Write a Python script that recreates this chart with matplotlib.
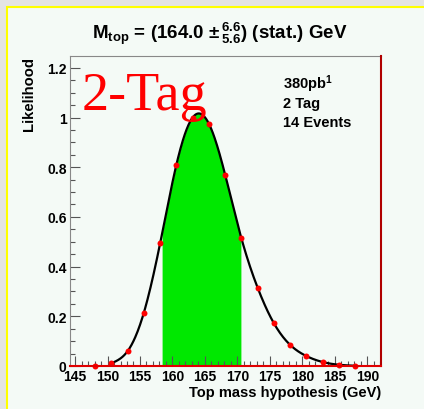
import numpy as np
import matplotlib
matplotlib.use("Agg")
from matplotlib import pyplot as plt
from matplotlib.patches import Rectangle
from matplotlib.ticker import MultipleLocator

# === Data ===
mass = [148.1, 150.6, 153.1, 155.6, 158.1, 160.6, 163.1, 165.6, 168.1,
        170.6, 173.1, 175.6, 178.1, 180.6, 183.1, 185.6, 188.1]
likelihood = [0.0, 0.011, 0.06, 0.215, 0.494, 0.81, 1.0, 0.975, 0.77,
              0.514, 0.315, 0.172, 0.085, 0.040, 0.016, 0.005, 0.001]
m_best = 164.0
err_lo = 5.6
err_hi = 6.6
info_lines = ["380pb$^{1}$", "2 Tag", "14 Events"]

plt.rcParams['font.family'] = ['Liberation Sans', 'DejaVu Sans']
plt.rcParams['font.weight'] = 'bold'
plt.rcParams['mathtext.fontset'] = 'custom'
plt.rcParams['mathtext.rm'] = 'Liberation Sans:bold'
plt.rcParams['mathtext.it'] = 'Liberation Sans:bold'
plt.rcParams['mathtext.bf'] = 'Liberation Sans:bold'

W, H = 424, 410
panel = '#f4faf6'


def natural_spline(x, y, xs):
    # plain natural cubic spline, used only to draw the smooth curve
    x = np.asarray(x, float)
    y = np.asarray(y, float)
    n = len(x)
    h = np.diff(x)
    A = np.zeros((n, n))
    b = np.zeros(n)
    A[0, 0] = A[-1, -1] = 1
    for i in range(1, n - 1):
        A[i, i - 1] = h[i - 1]
        A[i, i] = 2 * (h[i - 1] + h[i])
        A[i, i + 1] = h[i]
        b[i] = 6 * ((y[i + 1] - y[i]) / h[i] - (y[i] - y[i - 1]) / h[i - 1])
    M = np.linalg.solve(A, b)
    idx = np.clip(np.searchsorted(x, xs) - 1, 0, n - 2)
    x0, x1 = x[idx], x[idx + 1]
    hh = x1 - x0
    t0, t1 = x1 - xs, xs - x0
    return (M[idx] * t0**3 / (6 * hh) + M[idx + 1] * t1**3 / (6 * hh)
            + (y[idx] / hh - M[idx] * hh / 6) * t0
            + (y[idx + 1] / hh - M[idx + 1] * hh / 6) * t1)


fig = plt.figure(figsize=(W / 100, H / 100), dpi=100)
fig.patch.set_facecolor('#e4e4e4')
fig.patches.append(Rectangle((7 / W, -0.2), 2, 1.2 - 8 / H, transform=fig.transFigure,
                             facecolor=panel, edgecolor='#ffff00', lw=1.5, zorder=-5))

ax = fig.add_axes([70 / W, 43 / H, 311 / W, 310 / H])
ax.set_facecolor(panel)

xs = np.linspace(mass[1], mass[-1], 400)
ys = np.clip(natural_spline(mass[1:], likelihood[1:], xs), 0, None)
band = (xs >= m_best - err_lo) & (xs <= m_best + err_hi)
ax.fill_between(xs[band], 0, ys[band], color='#00e800', lw=0, zorder=1)
ax.plot(xs, ys, color='black', lw=1.6, zorder=2)
ax.plot(mass, likelihood, 'o', color='#ff0000', ms=4.3, mew=0, zorder=3, clip_on=False)

ax.set_xlim(144.23, 192.08)
ax.set_ylim(0, 1.2475)
ax.xaxis.set_major_locator(MultipleLocator(5))
ax.xaxis.set_minor_locator(MultipleLocator(1))
ax.yaxis.set_minor_locator(MultipleLocator(0.05))
ax.set_yticks([0, 0.2, 0.4, 0.6, 0.8, 1.0, 1.2])
ax.set_yticklabels(['0', '0.2', '0.4', '0.6', '0.8', '1', '1.2'])
ax.tick_params(which='both', direction='in', top=False, right=False,
               color='#555555', labelsize=10)
ax.tick_params(which='major', length=7, width=0.8)
ax.tick_params(which='minor', length=3.5, width=0.8)
ax.tick_params(axis='x', pad=2.5)
ax.tick_params(axis='y', pad=2.5)

ax.spines['top'].set_color('#888888')
ax.spines['left'].set_color('#888888')
ax.spines['right'].set_color('#b00000')
ax.spines['bottom'].set_color('#e00000')
for s in ('right', 'bottom'):
    ax.spines[s].set_linewidth(1.5)
    ax.spines[s].set_zorder(4)

fig.text(220 / W, 1 - 39 / H, r"M$_{\mathrm{top}}$ = (164.0 ${\pm}\,^{6.6}_{5.6}$) (stat.) GeV",
         ha='center', va='baseline', fontsize=13.5, fontweight='bold')
fig.text(29 / W, 1 - 57 / H, "Likelihood", rotation=90, ha='center', va='top',
         fontsize=10.7, fontweight='bold')
fig.text(381 / W, 1 - 397 / H, "Top mass hypothesis (GeV)", ha='right', va='baseline',
         fontsize=10.5, fontweight='bold')

fig.text(82 / W, 1 - 110 / H, "2-Tag", family='Liberation Serif', fontweight='normal',
         color='#ff0000', fontsize=39, ha='left', va='baseline', zorder=5)
for i, line in enumerate(info_lines):
    fig.text(283 / W, 1 - (89 + 19 * i) / H, line, ha='left', va='baseline',
             fontsize=10.5, fontweight='bold')

fig.savefig("out.png", dpi=100, facecolor=fig.get_facecolor())
